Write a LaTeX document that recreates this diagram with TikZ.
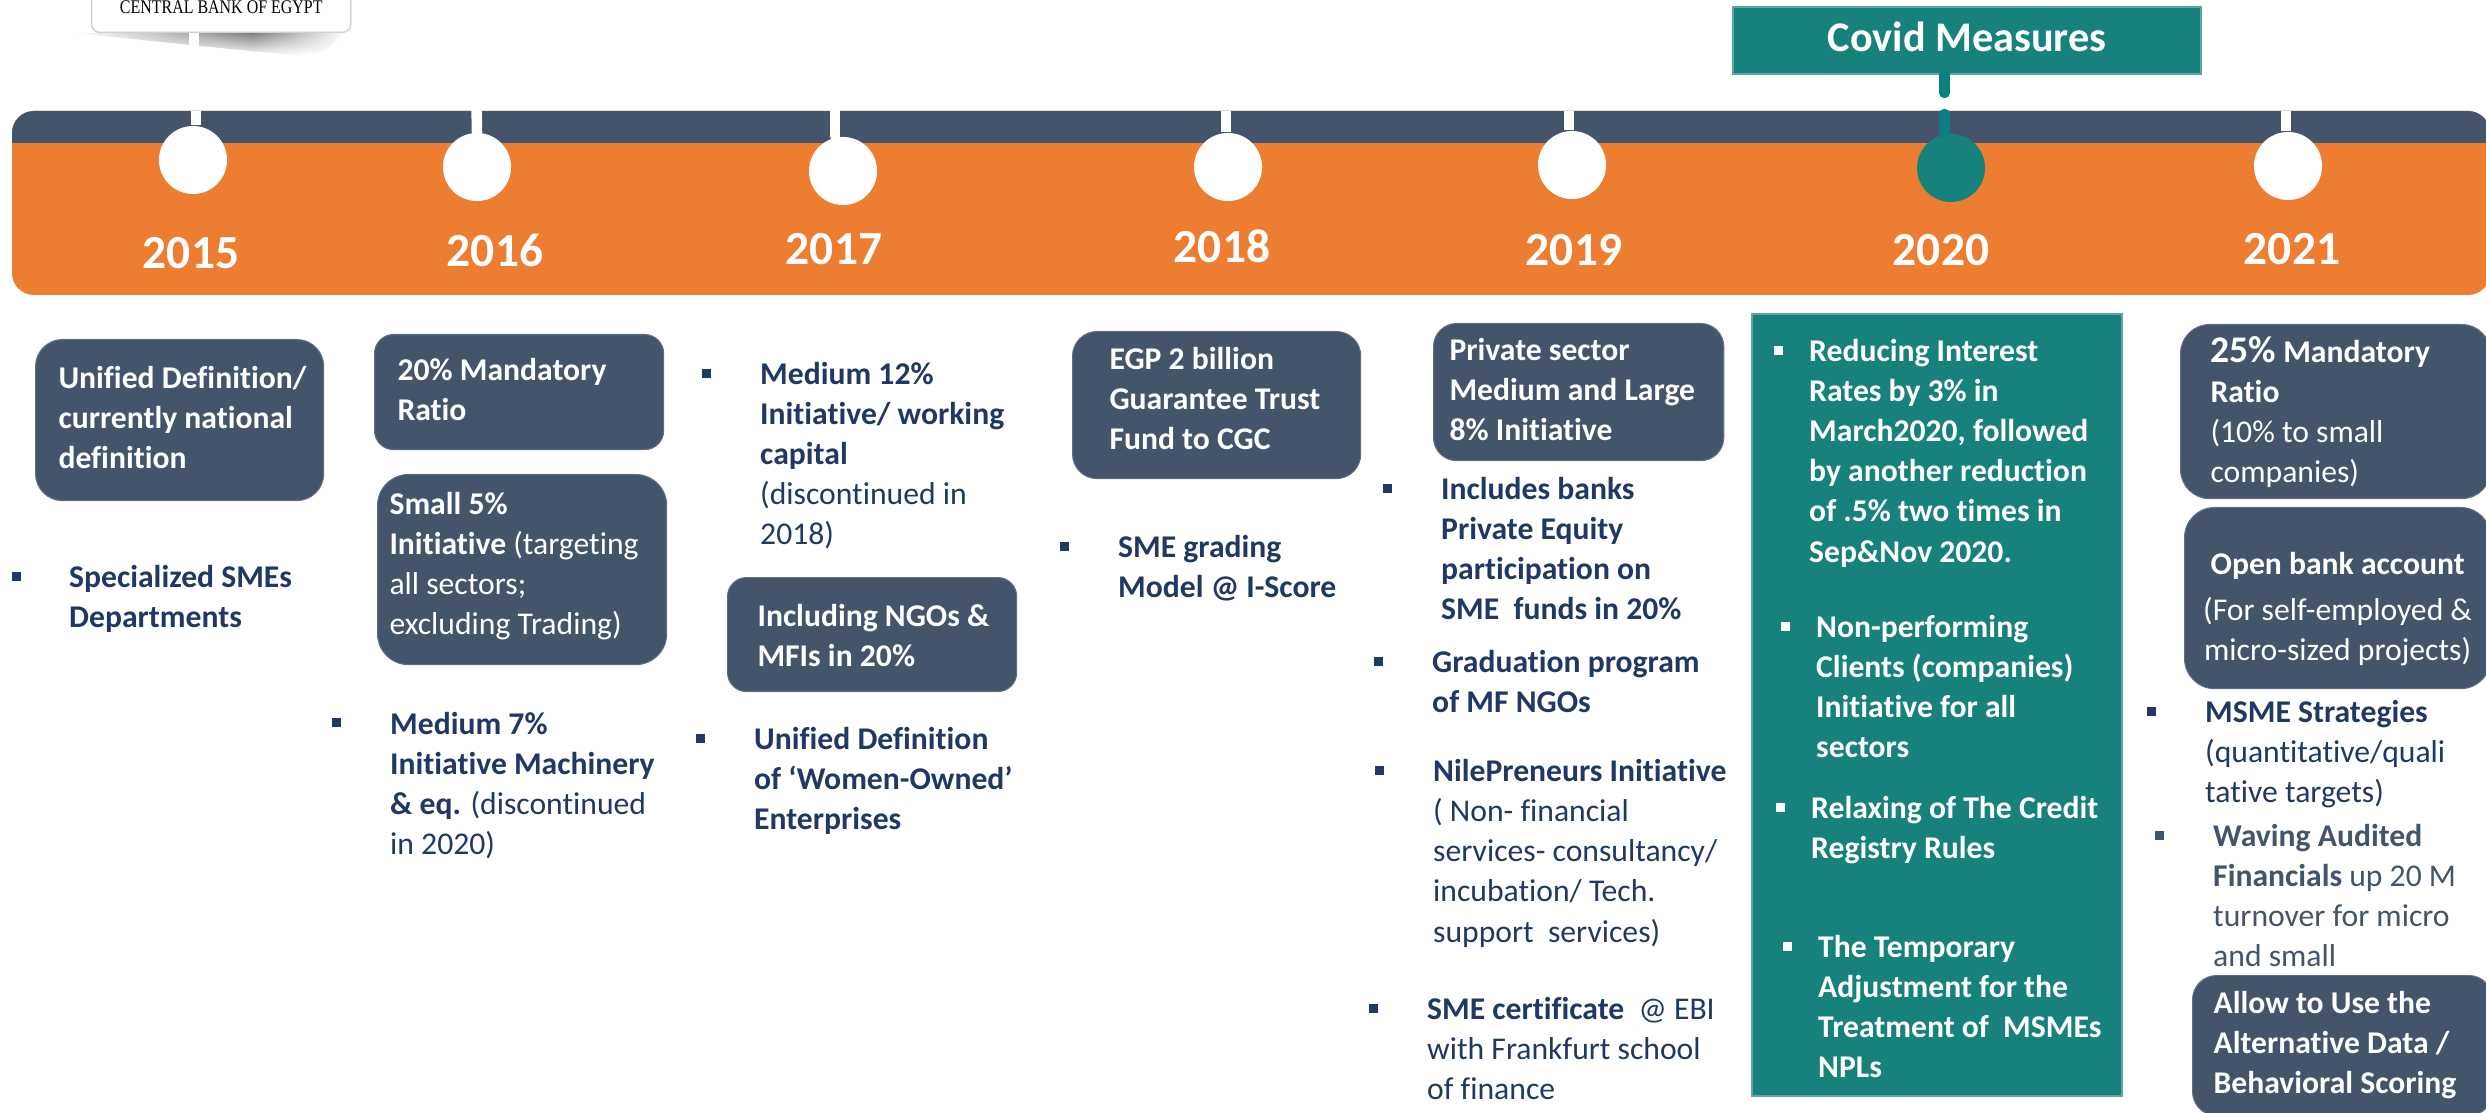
\documentclass[tikz,border=0pt]{standalone}
\usepackage{fontspec}
\usetikzlibrary{fadings}
\setmainfont{Carlito}[Ligatures=NoCommon]
\newfontfamily\logofont{Liberation Serif}
\definecolor{slate}{HTML}{44546A}
\definecolor{barorange}{HTML}{ED7D31}
\definecolor{covid}{HTML}{17827C}
\definecolor{covidstem}{HTML}{0A8080}
\definecolor{inknavy}{HTML}{1F3864}
\pgfdeclarehorizontalshading{logoshadow}{100bp}{color(0bp)=(white); color(25bp)=(white); color(58bp)=(black!50); color(75bp)=(white); color(100bp)=(white)}
\newcommand{\inset}[3][0]{\hspace*{#2cm}\begin{tabular}{@{}l@{}}\rule{0pt}{\dimexpr 0.28cm+#1cm\relax}#3\end{tabular}}
\newcommand{\bul}[1]{\leavevmode\strut\llap{\rule[0.07cm]{0.09cm}{0.09cm}\hspace{#1cm}}}
\tikzset{
  bodyfont/.style={font=\fontsize{9}{11.38}\selectfont},
  slatebox/.style={rectangle, rounded corners=#1cm, fill=slate, draw=slate!85!white, line width=0.3pt, inner sep=0pt, text=white, align=flush left, anchor=north west, bodyfont},
  covidbox/.style={rectangle, fill=covid, draw=covid!70!white, line width=0.5pt, inner sep=0pt, anchor=north west},
  itemtext/.style={inner sep=0pt, anchor=north west, align=left, text=inknavy, bodyfont, xshift=-0.005cm, yshift=-0.012cm},
  covidtext/.style={itemtext, text=white},
  yearlabel/.style={inner sep=0pt, anchor=base, text=white, yshift=-0.025cm, font=\fontsize{13.5}{16}\selectfont\bfseries},
  stopdot/.style={circle, fill=white, minimum size=0.68cm, inner sep=0pt},
  stemline/.style={white, line width=0.105cm, line cap=round},
  tealstem/.style={covidstem, line width=0.105cm, line cap=round},
}
\begin{document}
\begin{tikzpicture}[x=0.01cm,y=-0.01cm]
\path[use as bounding box, clip] (0,0) rectangle (2486,1113);
\fill [barorange, rounded corners=0.22cm] (12,111) rectangle (2490,295);
\fill [slate] (12,143) [rounded corners=0.22cm] -- (12,111) -- (2490,111) [sharp corners] -- (2490,143) -- cycle;
\shade [shading=logoshadow, path fading=south] (75,33) -- (345,33) -- (325,50) -- (300,56) -- (200,46) -- cycle;
\node [rectangle, rounded corners=0.08cm, fill=white, draw=black!18, line width=0.4pt, anchor=south west, minimum width=2.59cm, minimum height=0.5cm, inner sep=0pt, font=\logofont\fontsize{5.5}{6}\selectfont] (logo) at (91,33) {\scalebox{0.825}[1]{CENTRAL BANK OF EGYPT}};
\coordinate (l15) at (194,41);
\draw [stemline, line cap=butt] (l15 |- logo.south) -- (194,46);
\coordinate (t15) at (196,111);
\coordinate (t16) at (477,111);
\coordinate (t17) at (835,111);
\coordinate (t18) at (1226,111);
\coordinate (t19) at (1569,111);
\coordinate (t21) at (2286,111);
\coordinate (t20) at (1944.5,114);
\coordinate (k20) at (1944.5,93);
\node [stopdot] (c15) at (193,160) {};
\node [stopdot] (c16) at (477,167) {};
\node [stopdot] (c17) at (843,171) {};
\node [stopdot] (c18) at (1228,167) {};
\node [stopdot] (c19) at (1572,165) {};
\node [stopdot, fill=covid] (c20) at (1951,168) {};
\node [stopdot] (c21) at (2288,166) {};
\draw [stemline, line cap=butt] (t15) -- (t15 |- c15.north);
\draw [stemline] (476.5,106) -- (t16 |- c16.north);
\draw [stemline] (t17) ++(0,-5) -- (t17 |- c17.north);
\draw [stemline, line cap=butt] (t18) -- (t18 |- c18.north);
\draw [stemline, line cap=butt] (t19) -- (t19 |- c19.north);
\draw [stemline, line cap=butt] (t21) -- (t21 |- c21.north);
\draw [tealstem] (t20) -- (t20 |- c20.north);
\node [covidbox, minimum width=4.68cm, minimum height=0.67cm, text=white, text depth=0.08cm, font=\fontsize{12}{14}\selectfont\bfseries] (cv) at (1732,6) {Covid Measures};
\draw [tealstem, line cap=round] (k20 |- cv.south) -- (k20);
\node [yearlabel] (y15) at (191,266) {2015};
\node [yearlabel] (y16) at (495,264) {2016};
\node [yearlabel] (y17) at (834,262) {2017};
\node [yearlabel] (y18) at (1222,260) {2018};
\node [yearlabel] (y19) at (1574,263) {2019};
\node [yearlabel] (y20) at (1941,263) {2020};
\node [yearlabel] (y21) at (2292,262) {2021};
\node [slatebox=0.27, text width=2.88cm, minimum height=1.61cm] (b15a) at (35,339) {\inset{0.23}{\textbf{Unified Definition/}\\\textbf{currently national}\\\textbf{definition}}};
\node [itemtext] (i15a) at (69,558) {\bul{0.48}\textbf{Specialized SMEs}\\\textbf{Departments}};
\node [slatebox=0.19, text width=2.89cm, minimum height=1.15cm] (b16a) at (374,334) {\inset{0.23}{\textbf{20\% Mandatory}\\\textbf{Ratio}}};
\node [slatebox=0.31, text width=2.89cm, minimum height=1.90cm] (b16b) at (377,474) {\inset{0.12}{\textbf{Small 5\%}\\\textbf{Initiative} (targeting\\all sectors;\\excluding Trading)\\[0.06cm]}};
\node [itemtext] (i16a) at (390,704.5) {\bul{0.49}\textbf{Medium 7\%}\\\textbf{Initiative Machinery}\\\textbf{\& eq.} (discontinued\\in 2020)};
\node [itemtext] (i17a) at (760,355) {\bul{0.49}\textbf{Medium 12\%}\\\textbf{Initiative/ working}\\\textbf{capital}\\(discontinued in\\2018)};
\node [slatebox=0.19, text width=2.89cm, minimum height=1.14cm] (b17a) at (727,577) {\inset[0.08]{0.30}{\textbf{Including NGOs \&}\\\textbf{MFIs in 20\%}}};
\node [itemtext] (i17b) at (754,720) {\bul{0.49}\textbf{Unified Definition}\\\textbf{of ‘Women-Owned’}\\\textbf{Enterprises}};
\node [slatebox=0.245, text width=2.88cm, minimum height=1.47cm] (b18a) at (1072,331) {\inset{0.37}{\textbf{EGP 2 billion}\\\textbf{Guarantee Trust}\\\textbf{Fund to CGC}\\[0.07cm]}};
\node [itemtext] (i18a) at (1118,528) {\bul{0.49}\textbf{SME grading}\\\textbf{Model @ I-Score}};
\node [slatebox=0.23, text width=2.90cm, minimum height=1.37cm] (b19a) at (1433,323) {\inset{0.16}{\textbf{Private sector}\\\textbf{Medium and Large}\\\textbf{8\% Initiative}}};
\node [itemtext] (i19a) at (1441,470) {\bul{0.49}\textbf{Includes banks}\\\textbf{Private Equity}\\\textbf{participation on}\\\textbf{SME\ \ funds in 20\%}};
\node [itemtext] (i19b) at (1432,643) {\bul{0.49}\textbf{Graduation program}\\\textbf{of MF NGOs}};
\node [itemtext] (i19c) at (1433,752) {\bul{0.49}\textbf{NilePreneurs Initiative}\\( Non- financial\\services- consultancy/\\incubation/ Tech.\\support\ \ services)};
\node [itemtext] (i19d) at (1427,990) {\bul{0.49}\textbf{SME certificate}\ \ @ EBI\\with Frankfurt school\\of finance};
\node [covidbox, minimum width=3.70cm, minimum height=7.82cm] (p20) at (1751,313) {};
\node [covidtext] (i20a) at (1809,332) {\bul{0.26}\textbf{Reducing Interest}\\\textbf{Rates by 3\% in}\\\textbf{March2020, followed}\\\textbf{by another reduction}\\\textbf{of .5\% two times in}\\\textbf{Sep\&Nov 2020.}};
\node [covidtext] (i20b) at (1816,608) {\bul{0.26}\textbf{Non-performing}\\\textbf{Clients (companies)}\\\textbf{Initiative for all}\\\textbf{sectors}};
\node [covidtext] (i20c) at (1811,789) {\bul{0.26}\textbf{Relaxing of The Credit}\\\textbf{Registry Rules}};
\node [covidtext] (i20d) at (1818,928) {\bul{0.26}\textbf{The Temporary}\\\textbf{Adjustment for the}\\\textbf{Treatment of\ \ MSMEs}\\\textbf{NPLs}};
\node [slatebox=0.29, text width=3.10cm, minimum height=1.74cm] (b21a) at (2180,324) {\inset[0.06]{0.30}{{\fontsize{10.7}{11.38}\selectfont\textbf{25\%}} \textbf{Mandatory}\\\textbf{Ratio}\\(10\% to small\\companies)}};
\node [slatebox=0.30, text width=3.06cm, minimum height=1.81cm, align=flush center] (b21b) at (2184,507) {\rule{0pt}{0.45cm}\textbf{Open bank account}\\[0.06cm](For self-employed \&\\micro-sized projects)};
\node [itemtext] (i21a) at (2205,693) {\bul{0.49}\textbf{MSME Strategies}\\(quantitative/quali\\tative targets)};
\node [itemtext, text=slate] (i21b) at (2213,817) {\bul{0.49}\textbf{Waving Audited}\\\textbf{Financials} up 20 M\\turnover for micro\\and small};
\node [slatebox=0.24, text width=3.00cm, minimum height=1.40cm] (b21c) at (2192,975) {\inset{0.21}{\textbf{Allow to Use the}\\\textbf{Alternative Data /}\\\textbf{Behavioral Scoring}}};
\end{tikzpicture}
\end{document}
